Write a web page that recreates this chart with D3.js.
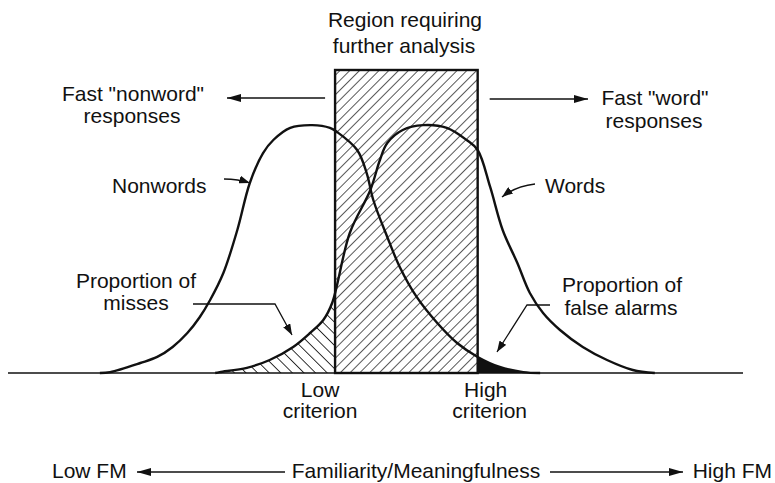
<!DOCTYPE html>
<html><head><meta charset="utf-8">
<script src="https://cdn.jsdelivr.net/npm/d3@7"></script>
<style>
body{margin:0;background:#fff}
svg{display:block}
text{font-family:"Liberation Sans",Arial,Helvetica,sans-serif;font-size:21px;fill:#111}
</style>
</head><body>
<svg id="c" width="775" height="483"></svg>
<script>
// ---- data (FM scale 0..100, height 0..100) ----
const nonwordX = [12.5, 13.9, 18.0, 20.3, 22.4, 24.4, 26.1, 27.5, 29.3, 31.2, 32.9, 34.7, 36.1, 38.4, 41.4, 43.8, 44.8, 47.5, 48.8, 49.7, 51.6, 53.3, 55.6, 58.4, 61.1, 63.9, 66.9, 70.1, 72.4];
const nonwordY = [0, 0.3, 3.3, 5.3, 8.6, 13.2, 18.5, 24.1, 33.0, 47.2, 62.7, 72.6, 76.9, 80.9, 81.8, 80.9, 79.5, 73.6, 66.0, 57.1, 44.9, 35.0, 25.1, 16.5, 9.9, 5.3, 2.0, 0.3, 0];
const wordX = [28.2, 28.8, 32.5, 35.6, 38.8, 41.1, 42.9, 44.1, 46.5, 49.3, 50.6, 51.6, 53.7, 56.5, 59.7, 62.4, 63.9, 65.6, 67.3, 69.3, 71.0, 72.8, 75.1, 78.2, 81.5, 85.0, 88.0];
const wordY = [0, 0.3, 1.7, 4.3, 8.6, 13.2, 17.5, 23.1, 46.2, 60.4, 70.3, 75.9, 80.2, 81.8, 80.9, 76.9, 73.6, 61.4, 47.2, 36.3, 26.4, 19.8, 14.2, 8.6, 4.3, 1.0, 0];
const criterionNames = ["Low", "High"];
const criterionValues = [44.5, 63.9];
const regionTop = 100;
const axisLabels = ["Low FM", "Familiarity/Meaningfulness", "High FM"];

// ---- scales ----
const svg = d3.select("#c");
const x = d3.scaleLinear().domain([0, 100]).range([8, 743]);
const y = d3.scaleLinear().domain([0, 100]).range([373, 70]);

const nonword = nonwordX.map((v, i) => [v, nonwordY[i]]);
const word = wordX.map((v, i) => [v, wordY[i]]);
const lowC = criterionValues[0], highC = criterionValues[1];

const defs = svg.append("defs");
function hatch(id, angle, gap, sw) {
  defs.append("pattern").attr("id", id).attr("patternUnits", "userSpaceOnUse")
    .attr("width", gap).attr("height", gap).attr("patternTransform", `rotate(${angle})`)
    .append("line").attr("x1", 0).attr("y1", -1).attr("x2", 0).attr("y2", gap + 1)
    .attr("stroke", "#111").attr("stroke-width", sw);
}
hatch("hatchBox", 45, 6.9, 1.4);
hatch("hatchMiss", -45, 8.2, 1.7);

defs.append("clipPath").attr("id", "clipMiss").append("rect")
  .attr("x", 0).attr("y", 0).attr("width", x(lowC)).attr("height", 483);
defs.append("clipPath").attr("id", "clipFA").append("rect")
  .attr("x", x(highC)).attr("y", 0).attr("width", 775 - x(highC)).attr("height", 483);

function marker(id, len, wid) {
  defs.append("marker").attr("id", id).attr("markerUnits", "userSpaceOnUse")
    .attr("viewBox", `0 0 ${len} ${wid}`).attr("markerWidth", len).attr("markerHeight", wid)
    .attr("refX", len).attr("refY", wid / 2).attr("orient", "auto")
    .append("path").attr("d", `M0,0L${len},${wid / 2}L0,${wid}Z`).attr("fill", "#111");
}
marker("ah", 14, 8);
marker("ahs", 11, 8);

const curve = d3.curveCatmullRom.alpha(0.5);
const area = d3.area().x(d => x(d[0])).y0(y(0)).y1(d => y(d[1])).curve(curve);
const line = d3.line().x(d => x(d[0])).y(d => y(d[1])).curve(curve);

// region box fill
svg.append("rect").attr("x", x(lowC)).attr("y", y(regionTop))
  .attr("width", x(highC) - x(lowC)).attr("height", y(0) - y(regionTop))
  .attr("fill", "url(#hatchBox)");

// misses
svg.append("path").attr("d", area(word)).attr("clip-path", "url(#clipMiss)")
  .attr("fill", "url(#hatchMiss)");
// false alarms
svg.append("path").attr("d", area(nonword)).attr("clip-path", "url(#clipFA)")
  .attr("fill", "#111");

// curves
[nonword, word].forEach(d => svg.append("path").attr("d", line(d))
  .attr("fill", "none").attr("stroke", "#111").attr("stroke-width", 2.4));

// box outline
svg.append("rect").attr("x", x(lowC)).attr("y", y(regionTop))
  .attr("width", x(highC) - x(lowC)).attr("height", y(0) - y(regionTop))
  .attr("fill", "none").attr("stroke", "#111").attr("stroke-width", 2.4);

// baseline
svg.append("line").attr("x1", x(0)).attr("x2", x(100)).attr("y1", y(0)).attr("y2", y(0))
  .attr("stroke", "#111").attr("stroke-width", 1.6);

// ---- labels ----
function txt(s, px, py, anchor) {
  svg.append("text").attr("x", px).attr("y", py).attr("text-anchor", anchor || "middle").text(s);
}
txt("Region requiring", 405, 27);
txt("further analysis", 404, 53);
txt("Fast \"nonword\"", 133, 101);
txt("responses", 132, 123);
txt("Fast \"word\"", 655, 105);
txt("responses", 654, 128);
txt("Nonwords", 112, 193, "start");
txt("Words", 545, 193, "start");
txt("Proportion of", 136, 288);
txt("misses", 136, 310);
txt("Proportion of", 622, 292);
txt("false alarms", 621, 315);
criterionNames.forEach((n, i) => {
  txt(n, x(criterionValues[i]) - 15 + i * 23, 397);
  txt("criterion", x(criterionValues[i]) - 15 + i * 27, 418);
});
txt(axisLabels[0], 52, 478, "start");
txt(axisLabels[1], 416, 478);
txt(axisLabels[2], 772, 478, "end");

// ---- arrows ----
function arrow(d, m, sw) {
  svg.append("path").attr("d", d).attr("fill", "none").attr("stroke", "#111")
    .attr("stroke-width", sw || 1.3).attr("marker-end", `url(#${m || "ah"})`);
}
arrow(`M${x(lowC) - 10},98L227,98`);
arrow(`M${x(highC) + 12},99L588,99`);
arrow("M224,179Q238,179 250,183", "ahs");
arrow("M535,184Q516,186 502,197", "ahs");
arrow("M193,304L275,304L292,335", "ahs");
arrow("M550,305L527,305L497,352", "ahs");
arrow("M285,472L137,472");
arrow("M550,472L683,472");
</script>
</body></html>
